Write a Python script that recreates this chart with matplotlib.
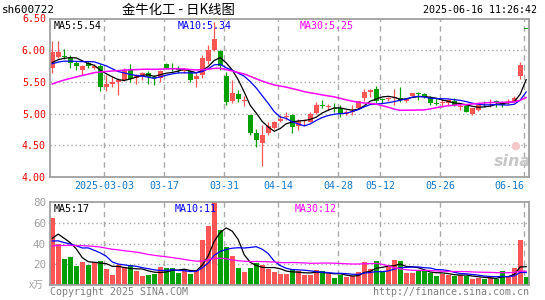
import numpy as np
import pandas as pd
import matplotlib
matplotlib.use("Agg")
import matplotlib.pyplot as plt

# ---------------- data ----------------
dates = (["2025-02-%02d" % d for d in (18, 19, 20, 21, 24, 25, 26, 27, 28)] +
         ["2025-03-%02d" % d for d in (3, 4, 5, 6, 7, 10, 11, 12, 13, 14, 17, 18, 19, 20, 21,
                                       24, 25, 26, 27, 28, 31)] +
         ["2025-04-%02d" % d for d in (1, 2, 3, 7, 8, 9, 10, 11, 14, 15, 16, 17, 18,
                                       21, 22, 23, 24, 25, 28, 29, 30)] +
         ["2025-05-%02d" % d for d in (6, 7, 8, 9, 12, 13, 14, 15, 16, 19, 20, 21, 22, 23,
                                       26, 27, 28, 29, 30)] +
         ["2025-06-%02d" % d for d in (3, 4, 5, 6, 9, 10, 11, 12, 13, 16)])

opens = [5.72, 5.89, 5.90, 5.87, 5.80, 5.68, 5.80, 5.72, 5.75, 5.42,
         5.47, 5.50, 5.53, 5.70, 5.55, 5.59, 5.64, 5.57, 5.55, 5.77,
         5.72, 5.70, 5.67, 5.67, 5.54, 5.60, 5.82, 6.00, 5.98, 5.59,
         5.20, 5.31, 5.19, 4.98, 4.69, 4.54, 4.69, 4.77, 4.89, 4.94,
         4.98, 4.80, 4.88, 4.87, 5.01, 5.13, 5.10, 5.09, 5.09, 4.99,
         5.03, 5.08, 5.24, 5.34, 5.38, 5.22, 5.23, 5.25, 5.25, 5.19,
         5.28, 5.32, 5.30, 5.25, 5.16, 5.17, 5.16, 5.20, 5.11, 5.12,
         4.99, 5.06, 5.17, 5.17, 5.19, 5.18, 5.18, 5.19, 5.59, 6.33]
highs = [6.13, 6.13, 6.01, 5.91, 5.82, 5.76, 5.82, 5.77, 5.78, 5.60,
         5.59, 5.55, 5.72, 5.77, 5.62, 5.65, 5.66, 5.60, 5.69, 5.80,
         5.80, 5.74, 5.72, 5.69, 5.64, 5.92, 6.07, 6.43, 5.99, 5.65,
         5.53, 5.37, 5.28, 4.98, 4.76, 4.82, 4.87, 4.88, 4.98, 5.02,
         4.99, 4.92, 4.92, 5.02, 5.18, 5.21, 5.15, 5.16, 5.13, 5.05,
         5.13, 5.20, 5.39, 5.39, 5.43, 5.24, 5.26, 5.39, 5.42, 5.24,
         5.32, 5.33, 5.32, 5.27, 5.25, 5.23, 5.22, 5.24, 5.16, 5.13,
         5.09, 5.14, 5.19, 5.22, 5.21, 5.20, 5.22, 5.27, 5.81, 6.33]
lows = [5.64, 5.87, 5.85, 5.72, 5.68, 5.61, 5.71, 5.70, 5.35, 5.36,
        5.41, 5.29, 5.51, 5.50, 5.47, 5.52, 5.47, 5.45, 5.50, 5.70,
        5.66, 5.64, 5.63, 5.50, 5.41, 5.55, 5.78, 5.98, 5.68, 5.13,
        5.16, 5.18, 5.12, 4.66, 4.47, 4.17, 4.66, 4.75, 4.86, 4.90,
        4.69, 4.74, 4.80, 4.86, 5.00, 5.08, 5.05, 5.03, 4.94, 4.97,
        4.98, 5.07, 5.19, 5.26, 5.17, 5.17, 5.20, 5.14, 5.18, 5.18,
        5.27, 5.21, 5.24, 5.14, 5.13, 5.11, 5.14, 5.12, 5.05, 5.02,
        4.98, 5.04, 5.10, 5.11, 5.11, 5.10, 5.15, 5.18, 5.54, 6.33]
closes = [5.96, 5.97, 5.89, 5.79, 5.75, 5.74, 5.75, 5.75, 5.42, 5.46,
          5.50, 5.53, 5.68, 5.54, 5.60, 5.64, 5.58, 5.55, 5.67, 5.72,
          5.70, 5.69, 5.69, 5.53, 5.59, 5.87, 6.00, 6.17, 5.75, 5.18,
          5.32, 5.23, 5.21, 4.70, 4.58, 4.66, 4.80, 4.87, 4.91, 4.96,
          4.79, 4.89, 4.90, 5.00, 5.13, 5.12, 5.11, 5.08, 5.00, 5.03,
          5.04, 5.19, 5.34, 5.37, 5.19, 5.21, 5.24, 5.26, 5.21, 5.23,
          5.32, 5.31, 5.26, 5.16, 5.15, 5.18, 5.21, 5.13, 5.12, 5.03,
          5.08, 5.13, 5.16, 5.18, 5.18, 5.13, 5.19, 5.25, 5.76, 6.33]
volumes = [64.8, 39.2, 25.1, 27.1, 18.8, 22.6, 19.7, 22.3, 23.6, 15.8,
           9.8, 19.1, 17.2, 19.1, 14.0, 9.1, 10.1, 11.0, 17.4, 16.5,
           16.5, 12.0, 15.2, 11.0, 14.5, 43.4, 56.8, 85.0, 53.0, 36.6,
           28.0, 16.5, 12.6, 16.5, 21.6, 19.1, 15.2, 12.9, 10.7, 10.7,
           15.2, 14.0, 9.8, 9.8, 14.5, 13.6, 11.0, 6.8, 10.1, 7.8,
           9.1, 12.6, 22.3, 15.2, 23.3, 12.9, 18.4, 24.2, 23.3, 11.7,
           11.7, 13.6, 14.5, 12.3, 8.8, 10.7, 10.4, 9.1, 10.4, 9.1,
           5.9, 7.2, 5.9, 7.8, 6.5, 13.6, 8.1, 16.5, 43.4, 7.8]

# sessions before the visible window (estimated from where the MA lines start)
prior_closes = [5.00, 5.02, 5.05, 5.03, 5.08, 5.10, 5.06, 5.12,
                5.20, 5.28, 5.35, 5.40, 5.45, 5.50, 5.48, 5.55, 5.58, 5.60, 5.62, 5.65,
                5.70, 5.75, 5.78, 5.80, 5.77, 5.75, 5.78, 5.74, 5.77]
prior_volumes = [22, 25, 24, 26, 23,
                 30, 35, 42, 48, 40, 36, 44, 38, 33, 41, 45, 37, 39, 36, 39,
                 38, 42, 40, 36, 44, 19, 45, 48, 48]

tick_dates = ["2025-03-03", "2025-03-17", "2025-03-31", "2025-04-14",
              "2025-04-28", "2025-05-12", "2025-05-26", "2025-06-16"]
tick_labels = ["2025-03-03", "03-17", "03-31", "04-14", "04-28", "05-12", "05-26", "06-16"]
price_ticks = [4.00, 4.50, 5.00, 5.50, 6.00, 6.50]
price_grid = [4.50, 5.00, 5.50, 6.00]
vol_ticks = [20, 40, 60, 80]
vol_grid = [20, 40, 60]

ma_price_labels = ["MA5:5.54", "MA10:5.34", "MA30:5.25"]
ma_vol_labels = ["MA5:17", "MA10:11", "MA30:12"]

# ---------------- style ----------------
RED = "#FF5555"
GREEN = "#00A000"
MA_COLORS = ["#000000", "#0000FF", "#FF00FF"]
GRID = "#AAAAAA"
SPINE = "#A0A0A0"
MONO = "DejaVu Sans Mono"
FS = 7.2

n = len(closes)
x = np.arange(n)
o = np.array(opens); c = np.array(closes)
colors = [RED if cc > oo else GREEN for oo, cc in zip(o, c)]

cl_all = pd.Series(prior_closes + closes)
vo_all = pd.Series(prior_volumes + volumes)
k = len(prior_closes)
ma_price = [cl_all.rolling(w).mean().values[k:] for w in (5, 10, 30)]
ma_vol = [vo_all.rolling(w).mean().values[k:] for w in (5, 10, 30)]

W, H = 545, 300
fig = plt.figure(figsize=(W / 100, H / 100), dpi=100)
fig.patch.set_facecolor("white")

def ax_rect(left, top, right, bottom):
    return [left / W, 1 - bottom / H, (right - left) / W, (bottom - top) / H]

axp = fig.add_axes(ax_rect(50, 18.5, 529, 177.3))
axv = fig.add_axes(ax_rect(50, 201.7, 529, 285.4))

xlim = (-0.37, n - 0.53)
date_pos = [dates.index(d) - 0.3 for d in tick_dates]

for ax in (axp, axv):
    ax.set_xlim(*xlim)
    for s in ax.spines.values():
        s.set_color(SPINE)
        s.set_linewidth(1.3)
    for xp in date_pos:
        ax.axvline(xp, color=GRID, lw=1.0, ls=(0, (4, 3)), zorder=0.5)
    ax.tick_params(length=0)

# price panel
axp.set_ylim(4.0, 6.49)
for yv in price_grid:
    axp.axhline(yv, color=GRID, lw=1.0, ls=(0, (1, 2)), zorder=0.5)
body_h = np.maximum(np.abs(c - o), 0.014)
body_b = np.minimum(o, c)
body_b = np.where(np.abs(c - o) < 0.014, (o + c) / 2 - 0.007, body_b)
axp.vlines(x, lows, highs, colors=colors, lw=0.9, zorder=2)
axp.bar(x, body_h, bottom=body_b, width=0.82, color=colors, linewidth=0, zorder=2.5)
for ma, col, lw in zip(ma_price, MA_COLORS, (0.9, 0.9, 1.1)):
    axp.plot(x, ma, color=col, lw=lw, zorder=3)

axp.set_yticks(price_ticks[:-1])
axp.set_yticklabels(["%.2f" % t for t in price_ticks[:-1]], color="#EE0000",
                    fontsize=FS, family=MONO)
axp.text(-0.008, 1.0, "%.2f" % price_ticks[-1], transform=axp.transAxes,
         color="#EE0000", fontsize=FS, family=MONO, ha="right", va="center")
axp.tick_params(axis="y", pad=3)
axp.set_xticks(date_pos)
axp.set_xticklabels(tick_labels, color="#1478C8", fontsize=FS, family=MONO)
axp.tick_params(axis="x", pad=3)
axp.get_xticklabels()[-1].set_horizontalalignment("right")

for lbl, col, xp in zip(ma_price_labels, MA_COLORS, (54, 178, 300)):
    axp.text((xp - 50) / 479, 0.985, lbl, transform=axp.transAxes, color=col,
             fontsize=FS, family=MONO, ha="left", va="top", zorder=5)

axp.text(0.965, 0.10, "sina", transform=axp.transAxes, color="#C8C8C8",
         fontsize=11.5, fontweight="bold", fontstyle="italic", ha="center",
         va="center", zorder=1)
axp.text(0.972, 0.20, "●", transform=axp.transAxes, color="#F4C8C8",
         fontsize=8, ha="center", va="center", zorder=1)

# volume panel
axv.set_ylim(0, 80)
for yv in vol_grid:
    axv.axhline(yv, color=GRID, lw=1.0, ls=(0, (1, 2)), zorder=0.5)
axv.bar(x, volumes, width=0.82, color=colors, linewidth=0, zorder=2)
for ma, col in zip(ma_vol, MA_COLORS):
    axv.plot(x, ma, color=col, lw=0.9, zorder=3)
axv.set_yticks(vol_ticks)
axv.set_yticklabels([str(t) for t in vol_ticks], color="#A0A0A0",
                    fontsize=FS + 0.6, family=MONO)
axv.tick_params(axis="y", pad=3)
axv.set_xticks([])
axv.text(-0.012, 0.0, "x万", transform=axv.transAxes, color="#A0A0A0",
         fontsize=FS, family=["Noto Sans CJK SC", "DejaVu Sans"], ha="right",
         va="center", fontstyle="italic")
for lbl, col, xp in zip(ma_vol_labels, MA_COLORS, (54, 175, 295)):
    axv.text((xp - 50) / 479, 0.97, lbl, transform=axv.transAxes, color=col,
             fontsize=FS, family=MONO, ha="left", va="top", zorder=5)

# header and footer
fig.text(2 / W, 1 - 10 / H, "sh600722", color="black", fontsize=FS + 0.7,
         family=MONO, ha="left", va="center")
fig.text(122 / W, 1 - 10 / H, "金牛化工 - 日K线图", color="black", fontsize=9.6,
         family=["Noto Sans CJK SC", "DejaVu Sans"], ha="left", va="center")
fig.text(537 / W, 1 - 10 / H, "2025-06-16 11:26:42", color="black", fontsize=FS,
         family=MONO, ha="right", va="center")
fig.text(50 / W, 1 - 292 / H, "Copyright 2025 SINA.COM", color="#808080",
         fontsize=FS, family=MONO, ha="left", va="center")
fig.text(529 / W, 1 - 292 / H, "http://finance.sina.com.cn", color="#808080",
         fontsize=FS, family=MONO, ha="right", va="center")

fig.savefig("out.png", dpi=100, facecolor="white")
